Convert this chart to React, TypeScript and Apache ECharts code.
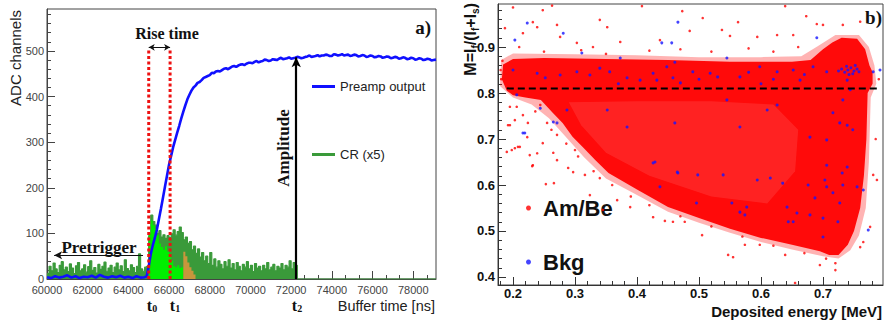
import { useEffect, useRef } from "react";
import * as echarts from "echarts";

// ---------------- Panel a) data ----------------
const binStart = 60000;
const binWidth = 100;
// CR (x5) histogram, 100 ns bins from 60000 ns
const crCounts = [
  12, 28, 18, 35, 22, 14, 30, 38, 20, 26, 16, 33, 24, 12, 29, 36, 18, 22, 31, 15,
  27, 40, 19, 25, 13, 32, 21, 28, 37, 17, 24, 30, 14, 26, 35, 20, 29, 16, 42, 23,
  18, 31, 25, 14, 28, 55, 22, 17, 26, 28,
  95, 140, 126, 118, 100, 106, 92, 97, 89, 95, 91, 99, 108, 96, 104, 114, 102, 86, 92, 78,
  82, 64, 72, 56, 66, 48, 58, 40, 50, 34, 58, 30, 44, 26, 40, 32, 22, 38, 28, 42,
  24, 34, 20, 36, 28, 18, 32, 26, 38, 22, 30, 16, 34, 24, 28, 18, 30, 22, 36, 20,
  26, 32, 18, 28, 24, 34, 20, 30, 26, 40, 22, 36, 30,
];
const crTailEnd = 79120;
// fast component (bright green), 100 ns bins from 65000 ns
const fastStart = 65000;
const fastCounts = [100, 128, 118, 110, 96, 78, 70, 64, 72, 60, 56, 40, 28, 26, 30, 24, 26];
// slow component (orange), 100 ns bins from 66700 ns
const slowStart = 66700;
const slowCounts = [60, 50, 36, 26, 18, 10];

// Preamp output [ns, ADC]
const preampPoints = [
  [60000, 4], [60200, 2], [60400, 6], [60600, 3], [60800, 5], [61000, 8], [61200, 3], [61400, 6],
  [61600, 2], [61800, 5], [62000, 4], [62200, 7], [62400, 3], [62600, 9], [62800, 5], [63000, 3],
  [63200, 6], [63400, 4], [63600, 7], [63800, 3], [64000, 5], [64200, 2], [64400, 6], [64600, 3],
  [64800, 4], [64900, 6], [65000, 28], [65100, 55], [65200, 74], [65300, 90], [65400, 108],
  [65500, 131], [65600, 154], [65700, 178], [65800, 203], [65900, 227], [66000, 251], [66100, 270],
  [66200, 289], [66300, 305], [66400, 321], [66500, 336], [66600, 352], [66700, 367], [66800, 381],
  [66900, 394], [67000, 404], [67100, 413], [67200, 420], [67300, 424], [67400, 430], [67500, 432],
  [67600, 436], [67700, 441], [67800, 443], [67900, 445], [68000, 447], [68100, 452], [68200, 451],
  [68300, 455], [68400, 456], [68500, 455], [68600, 458], [68700, 461], [68800, 462], [68900, 460],
  [69000, 463], [69100, 466], [69200, 467], [69300, 465], [69400, 468], [69500, 470], [69600, 471],
  [69700, 469], [69800, 472], [69900, 474], [70000, 474], [70100, 473], [70200, 476], [70300, 478],
  [70400, 475], [70500, 477], [70600, 478], [70700, 481], [70800, 480], [70900, 478], [71000, 479],
  [71100, 482], [71200, 481], [71300, 480], [71400, 483], [71500, 485], [71600, 482], [71700, 483],
  [71800, 484], [71900, 486], [72000, 483], [72100, 484], [72200, 485], [72300, 487], [72400, 486],
  [72500, 484], [72600, 485], [72700, 487], [72800, 488], [72900, 490], [73000, 487], [73100, 488],
  [73200, 489], [73300, 491], [73400, 488], [73500, 490], [73600, 490], [73700, 492], [73800, 491],
  [73900, 489], [74000, 489], [74100, 493], [74200, 492], [74300, 490], [74400, 491], [74500, 493],
  [74600, 490], [74700, 491], [74800, 492], [74900, 489], [75000, 490], [75100, 492], [75200, 491],
  [75300, 488], [75400, 489], [75500, 491], [75600, 490], [75700, 487], [75800, 488], [75900, 490],
  [76000, 489], [76100, 486], [76200, 487], [76300, 489], [76400, 488], [76500, 485], [76600, 486],
  [76700, 488], [76800, 487], [76900, 484], [77000, 485], [77100, 487], [77200, 486], [77300, 483],
  [77400, 484], [77500, 486], [77600, 485], [77700, 482], [77800, 483], [77900, 485], [78000, 484],
  [78100, 481], [78200, 482], [78300, 484], [78400, 483], [78500, 480], [78600, 481], [78700, 483],
  [78800, 482], [78900, 479], [79000, 480], [79120, 481],
];

const t0 = 65000;
const t1 = 66050;
const t2 = 72250;
const riseLineTop = 503;
const riseArrowLevel = 508;
const amplitudeTop = 486;
const pretriggerLevel = 52;
const pretriggerFrom = 64720;
const pretriggerTo = 60350;

const leftXTicks = [60000, 62000, 64000, 66000, 68000, 70000, 72000, 74000, 76000, 78000];
const leftYTicks = [0, 100, 200, 300, 400, 500];

// ---------------- Panel b) data ----------------
const mThreshold = 0.81;
const thresholdFrom = 0.19;
const thresholdTo = 0.79;
const rightXTicks = [0.2, 0.3, 0.4, 0.5, 0.6, 0.7];
const rightYTicks = [0.4, 0.5, 0.6, 0.7, 0.8, 0.9];

// dense Am/Be region outline [E, M]
const amBeHalo = [
  [0.179, 0.815], [0.181, 0.872], [0.2, 0.886], [0.3, 0.884], [0.4, 0.882], [0.5, 0.878],
  [0.6, 0.878], [0.665, 0.88], [0.692, 0.902], [0.72, 0.926], [0.758, 0.926], [0.774, 0.9],
  [0.783, 0.86], [0.786, 0.82], [0.777, 0.79], [0.774, 0.65], [0.769, 0.55], [0.758, 0.49],
  [0.744, 0.458], [0.725, 0.44], [0.7, 0.445], [0.65, 0.46], [0.6, 0.476], [0.55, 0.496],
  [0.5, 0.518], [0.45, 0.542], [0.4, 0.578], [0.35, 0.614], [0.315, 0.66], [0.285, 0.705],
  [0.258, 0.745], [0.23, 0.775], [0.2, 0.79],
];
const amBeCore = [
  [0.182, 0.83], [0.184, 0.862], [0.2, 0.874], [0.25, 0.876], [0.35, 0.874], [0.45, 0.872],
  [0.55, 0.868], [0.65, 0.868], [0.68, 0.872], [0.7, 0.895], [0.715, 0.91], [0.73, 0.92],
  [0.755, 0.918], [0.768, 0.895], [0.775, 0.86], [0.78, 0.845], [0.78, 0.82], [0.772, 0.8],
  [0.77, 0.7], [0.766, 0.62], [0.76, 0.55], [0.75, 0.5], [0.74, 0.47], [0.725, 0.448],
  [0.71, 0.448], [0.695, 0.456], [0.65, 0.47], [0.6, 0.485], [0.55, 0.505], [0.5, 0.528],
  [0.45, 0.552], [0.4, 0.59], [0.354, 0.626], [0.333, 0.654], [0.312, 0.683], [0.296, 0.705],
  [0.28, 0.735], [0.264, 0.757], [0.245, 0.785], [0.22, 0.79], [0.2, 0.795], [0.19, 0.805],
];
const amBeSparse = [
  [0.29, 0.78], [0.4, 0.782], [0.52, 0.782], [0.62, 0.775], [0.66, 0.72], [0.655, 0.63],
  [0.61, 0.56], [0.52, 0.575], [0.42, 0.62], [0.35, 0.67], [0.31, 0.73],
];
const amBePoints = [
  [0.263, 0.99], [0.248, 0.98], [0.2, 0.986], [0.408, 0.989], [0.232, 0.954], [0.239, 0.943],
  [0.271, 0.948], [0.34, 0.959], [0.352, 0.943], [0.187, 0.941], [0.216, 0.93], [0.276, 0.922],
  [0.303, 0.909], [0.329, 0.9], [0.373, 0.911], [0.437, 0.915], [0.195, 0.77], [0.203, 0.741],
  [0.192, 0.73], [0.208, 0.683], [0.223, 0.704], [0.198, 0.676], [0.248, 0.691], [0.227, 0.665],
  [0.265, 0.67], [0.639, 0.989], [0.673, 0.967], [0.473, 0.978], [0.506, 0.963], [0.563, 0.954],
  [0.485, 0.935], [0.537, 0.937], [0.55, 0.924], [0.594, 0.922], [0.626, 0.926], [0.652, 0.926],
  [0.69, 0.95], [0.7, 0.948], [0.732, 0.948], [0.76, 0.955], [0.231, 0.641], [0.253, 0.602],
  [0.266, 0.604], [0.297, 0.628], [0.324, 0.578], [0.316, 0.622], [0.345, 0.546], [0.368, 0.567],
  [0.389, 0.552], [0.426, 0.53], [0.445, 0.522], [0.458, 0.52], [0.477, 0.52], [0.505, 0.491],
  [0.547, 0.448], [0.555, 0.443], [0.574, 0.47], [0.598, 0.47], [0.639, 0.448], [0.655, 0.387],
  [0.695, 0.426], [0.72, 0.43], [0.72, 0.415], [0.76, 0.465], [0.765, 0.476], [0.776, 0.509],
  [0.781, 0.622], [0.787, 0.611], [0.19, 0.672], [0.203, 0.68], [0.211, 0.683], [0.232, 0.643],
  [0.289, 0.637], [0.271, 0.654], [0.239, 0.669], [0.224, 0.735], [0.195, 0.73], [0.206, 0.77],
  [0.216, 0.752], [0.255, 0.735], [0.244, 0.774], [0.271, 0.709], [0.18, 0.85], [0.183, 0.87],
  [0.181, 0.83], [0.25, 0.89], [0.31, 0.893], [0.42, 0.892], [0.47, 0.895], [0.52, 0.89],
  [0.58, 0.897], [0.62, 0.89], [0.66, 0.9], [0.35, 0.885], [0.21, 0.9], [0.79, 0.83], [0.785, 0.7],
  [0.286, 0.69], [0.305, 0.662], [0.33, 0.63], [0.36, 0.6], [0.39, 0.575], [0.42, 0.556],
  [0.47, 0.532], [0.52, 0.51], [0.57, 0.488], [0.62, 0.468], [0.67, 0.452], [0.705, 0.44],
  [0.262, 0.72], [0.236, 0.76], [0.3, 0.676], [0.34, 0.615],
];
const bkgPoints = [
  [0.223, 0.952], [0.203, 0.915], [0.281, 0.93], [0.311, 0.887], [0.373, 0.876], [0.2, 0.85],
  [0.239, 0.843], [0.252, 0.833], [0.276, 0.839], [0.303, 0.846], [0.324, 0.839], [0.34, 0.854],
  [0.356, 0.846], [0.384, 0.833], [0.405, 0.828], [0.426, 0.843], [0.448, 0.857], [0.458, 0.833],
  [0.206, 0.796], [0.244, 0.767], [0.271, 0.735], [0.219, 0.713], [0.432, 0.828], [0.466, 0.954],
  [0.44, 0.909], [0.456, 0.909], [0.69, 0.92], [0.461, 0.867], [0.49, 0.846], [0.518, 0.843],
  [0.545, 0.876], [0.566, 0.835], [0.598, 0.857], [0.626, 0.846], [0.652, 0.85], [0.663, 0.828],
  [0.684, 0.857], [0.706, 0.846], [0.725, 0.848], [0.73, 0.852], [0.735, 0.845], [0.74, 0.85],
  [0.745, 0.855], [0.75, 0.848], [0.755, 0.852], [0.748, 0.842], [0.738, 0.858], [0.758, 0.846],
  [0.742, 0.84], [0.752, 0.86], [0.739, 0.828], [0.744, 0.807], [0.732, 0.785], [0.739, 0.73],
  [0.727, 0.735], [0.716, 0.757], [0.748, 0.72], [0.706, 0.698], [0.679, 0.704], [0.626, 0.774],
  [0.61, 0.763], [0.545, 0.785], [0.792, 0.85], [0.781, 0.846], [0.566, 0.726], [0.465, 0.628],
  [0.498, 0.622], [0.539, 0.622], [0.553, 0.561], [0.566, 0.541], [0.574, 0.535], [0.577, 0.552],
  [0.594, 0.611], [0.615, 0.615], [0.635, 0.604], [0.642, 0.552], [0.644, 0.52], [0.652, 0.52],
  [0.658, 0.539], [0.676, 0.6], [0.679, 0.535], [0.687, 0.572], [0.7, 0.528], [0.703, 0.611],
  [0.706, 0.596], [0.716, 0.583], [0.724, 0.52], [0.727, 0.561], [0.731, 0.626], [0.732, 0.6],
  [0.739, 0.639], [0.755, 0.596], [0.765, 0.589], [0.773, 0.502], [0.7, 0.487], [0.706, 0.643],
  [0.496, 0.561], [0.429, 0.65], [0.466, 0.626], [0.437, 0.596], [0.265, 0.737], [0.216, 0.713],
  [0.287, 0.763], [0.352, 0.763], [0.384, 0.726], [0.461, 0.735], [0.426, 0.648], [0.5, 0.83],
  [0.53, 0.835], [0.58, 0.845], [0.62, 0.83], [0.67, 0.84], [0.6, 0.82], [0.47, 0.822], [0.37, 0.82],
];

// ---------------- helpers ----------------
function histSteps(start: number, width: number, counts: number[]) {
  const pts: number[][] = counts.map((c, i) => [start + i * width, c]);
  pts.push([start + counts.length * width, 0]);
  return pts;
}
function minorBetween(majors: number[], div: number, lo: number, hi: number) {
  const step = (majors[1] - majors[0]) / div;
  const out: number[] = [];
  for (let v = majors[0] - step * div; v <= hi + 1e-9; v += step) {
    const r = Math.round(v * 1e6) / 1e6;
    if (r < lo - 1e-9) continue;
    const isMajor = majors.some((m) => Math.abs(m - r) < step / 10);
    if (!isMajor) out.push(r);
  }
  return out;
}
function polygonSeries(name: string, pts: number[][], axis: number, fill: string, z: number) {
  return {
    type: "custom",
    name,
    xAxisIndex: axis,
    yAxisIndex: axis,
    data: pts,
    z,
    silent: true,
    clip: true,
    renderItem: (params: any, api: any) => {
      if (params.dataIndex !== 0) return null;
      const points = pts.map((p) => api.coord(p));
      return { type: "polygon", shape: { points }, style: { fill } };
    },
  };
}

const SANS = "Liberation Sans, Arial, sans-serif";
const SERIF = "Liberation Serif, Times New Roman, serif";

export default function App() {
  const ref = useRef<HTMLDivElement>(null);
  useEffect(() => {
    document.body.style.margin = "0";
    if (!ref.current) return;
    const chart = echarts.init(ref.current, null, { renderer: "svg", width: 886, height: 322 });

    const lxMin = 60000, lxMax = 79120, lyMin = 0, lyMax = 592;
    const rxMin = 0.1758, rxMax = 0.7968, ryMin = 0.3826, ryMax = 0.9935;

    const axisBase = (color: string) => ({
      axisLine: { show: true, lineStyle: { color, width: 1 } },
      splitLine: { show: false },
    });

    const crData = histSteps(binStart, binWidth, crCounts);
    crData.push([crTailEnd, 0]);

    const option: any = {
      animation: false,
      backgroundColor: "#fff",
      grid: [
        { left: 47, top: 9, width: 389, height: 270, show: true, borderColor: "#444", borderWidth: 1, backgroundColor: "transparent" },
        { left: 498, top: 4, width: 385, height: 281, show: true, borderColor: "#444", borderWidth: 1, backgroundColor: "transparent" },
      ],
      xAxis: [
        {
          type: "value", gridIndex: 0, min: lxMin, max: lxMax, ...axisBase("#444"),
          axisTick: { inside: true, length: 8, customValues: leftXTicks, lineStyle: { color: "#444" } },
          axisLabel: { customValues: leftXTicks, fontSize: 11, color: "#444", margin: 5, fontFamily: SANS, formatter: (v: number) => String(v) },
        },
        {
          type: "value", gridIndex: 0, min: lxMin, max: lxMax, position: "bottom",
          axisLine: { show: false }, splitLine: { show: false }, axisLabel: { show: false },
          axisTick: { inside: true, length: 4, customValues: minorBetween(leftXTicks, 3, lxMin, lxMax), lineStyle: { color: "#444" } },
        },
        {
          type: "value", gridIndex: 1, min: rxMin, max: rxMax, ...axisBase("#333"),
          axisTick: { inside: true, length: 8, customValues: rightXTicks, lineStyle: { color: "#333" } },
          axisLabel: {
            customValues: rightXTicks, fontSize: 13, fontWeight: "bold", color: "#111", margin: 2, fontFamily: SANS,
            formatter: (v: number) => v.toFixed(1),
          },
        },
        {
          type: "value", gridIndex: 1, min: rxMin, max: rxMax, position: "bottom",
          axisLine: { show: false }, splitLine: { show: false }, axisLabel: { show: false },
          axisTick: { inside: true, length: 4, customValues: minorBetween(rightXTicks, 5, rxMin, rxMax), lineStyle: { color: "#333" } },
        },
      ],
      yAxis: [
        {
          type: "value", gridIndex: 0, min: lyMin, max: lyMax, position: "left", ...axisBase("#444"),
          axisTick: { inside: true, length: 8, customValues: leftYTicks, lineStyle: { color: "#444" } },
          axisLabel: { customValues: leftYTicks, fontSize: 11, color: "#444", margin: 3, fontFamily: SANS },
        },
        {
          type: "value", gridIndex: 0, min: lyMin, max: lyMax, position: "left",
          axisLine: { show: false }, splitLine: { show: false }, axisLabel: { show: false },
          axisTick: { inside: true, length: 4, customValues: minorBetween(leftYTicks, 5, lyMin, lyMax), lineStyle: { color: "#444" } },
        },
        {
          type: "value", gridIndex: 1, min: ryMin, max: ryMax, position: "left", ...axisBase("#333"),
          axisTick: { inside: true, length: 8, customValues: rightYTicks, lineStyle: { color: "#333" } },
          axisLabel: {
            customValues: rightYTicks, fontSize: 13, fontWeight: "bold", color: "#111", margin: 3, fontFamily: SANS,
            formatter: (v: number) => v.toFixed(1),
          },
        },
        {
          type: "value", gridIndex: 1, min: ryMin, max: ryMax, position: "left",
          axisLine: { show: false }, splitLine: { show: false }, axisLabel: { show: false },
          axisTick: { inside: true, length: 4, customValues: minorBetween(rightYTicks, 5, ryMin, ryMax), lineStyle: { color: "#333" } },
        },
      ],
      legend: [
        {
          data: ["Preamp output", "CR (x5)"], orient: "vertical", left: 307, top: 74,
          icon: "rect", itemWidth: 23, itemHeight: 3, itemGap: 53, selectedMode: false,
          textStyle: { fontSize: 13, fontFamily: SANS, color: "#222", lineHeight: 15 },
        },
        {
          data: ["Am/Be", "Bkg"], orient: "vertical", left: 521, top: 191,
          icon: "circle", itemWidth: 5, itemHeight: 5, itemGap: 30, selectedMode: false,
          textStyle: { fontSize: 22, fontWeight: "bold", fontFamily: SANS, color: "#111", lineHeight: 24, padding: [0, 0, 0, 7] },
        },
      ],
      series: [
        {
          type: "line", name: "CR (x5)", xAxisIndex: 0, yAxisIndex: 0, data: crData, step: "end",
          symbol: "none", color: "#3a9a3a", lineStyle: { color: "#3a9a3a", width: 1.2 },
          areaStyle: { color: "#3a9a3a", opacity: 1 }, z: 2,
        },
        {
          type: "line", name: "fast", xAxisIndex: 0, yAxisIndex: 0, data: histSteps(fastStart, binWidth, fastCounts),
          step: "end", symbol: "none", lineStyle: { width: 0 }, areaStyle: { color: "#00ee00", opacity: 1 }, z: 3,
        },
        {
          type: "line", name: "slow", xAxisIndex: 0, yAxisIndex: 0, data: histSteps(slowStart, binWidth, slowCounts),
          step: "end", symbol: "none", lineStyle: { width: 0 }, areaStyle: { color: "#c8963c", opacity: 1 }, z: 3,
        },
        {
          type: "line", name: "Preamp output", xAxisIndex: 0, yAxisIndex: 0, data: preampPoints,
          symbol: "none", color: "#1010ff", lineStyle: { color: "#1010ff", width: 2.6 }, z: 4,
        },
        {
          type: "line", name: "t0 line", xAxisIndex: 0, yAxisIndex: 0, data: [[t0, 0], [t0, riseLineTop]],
          symbol: "none", lineStyle: { color: "#ee1111", width: 3, type: [3, 2.5] }, z: 5,
          markLine: {
            silent: true, animation: false, label: { show: false },
            data: [
              [
                { coord: [t0, riseArrowLevel], symbol: "arrow", symbolSize: [5, 6], lineStyle: { color: "#111", width: 1, type: "solid" } },
                { coord: [t1, riseArrowLevel], symbol: "arrow", symbolSize: [5, 6] },
              ],
              [
                { coord: [pretriggerFrom, pretriggerLevel], symbol: "none", lineStyle: { color: "#111", width: 1.2, type: "solid" } },
                { coord: [pretriggerTo, pretriggerLevel], symbol: "arrow", symbolSize: [6, 8] },
              ],
              [
                { coord: [t2, 0], symbol: "none", lineStyle: { color: "#000", width: 2.2, type: "solid" } },
                { coord: [t2, amplitudeTop], symbol: "arrow", symbolSize: [7, 10] },
              ],
            ],
          },
        },
        {
          type: "line", name: "t1 line", xAxisIndex: 0, yAxisIndex: 0, data: [[t1, 0], [t1, riseLineTop]],
          symbol: "none", lineStyle: { color: "#ee1111", width: 3, type: [3, 2.5] }, z: 5,
        },
        polygonSeries("halo", amBeHalo, 2, "rgba(255,20,20,0.32)", 2),
        polygonSeries("core", amBeCore, 2, "#ff0a0a", 3),
        polygonSeries("sparse", amBeSparse, 2, "rgba(255,255,255,0.1)", 4),
        {
          type: "scatter", name: "Am/Be", xAxisIndex: 2, yAxisIndex: 2, data: amBePoints,
          symbol: "circle", symbolSize: 2.6, color: "#ff0000", itemStyle: { color: "#ff0000" }, z: 5,
        },
        {
          type: "scatter", name: "Bkg", xAxisIndex: 2, yAxisIndex: 2, data: bkgPoints,
          symbol: "circle", symbolSize: 3, color: "#0000ff", itemStyle: { color: "#1515ff" }, z: 6,
        },
        {
          type: "line", name: "threshold", xAxisIndex: 2, yAxisIndex: 2,
          data: [[thresholdFrom, mThreshold], [thresholdTo, mThreshold]],
          symbol: "none", lineStyle: { color: "#000", width: 2, type: [7, 4] }, z: 7,
        },
      ],
      graphic: [
        { type: "text", x: 167, y: 33, style: { text: "Rise time", fontFamily: SERIF, fontWeight: "bold", fontSize: 16, fill: "#111", align: "center", verticalAlign: "middle" } },
        { type: "text", x: 99, y: 247, style: { text: "Pretrigger", fontFamily: SERIF, fontWeight: "bold", fontSize: 17, fill: "#111", align: "center", verticalAlign: "middle" } },
        { type: "text", x: 283, y: 148, rotation: Math.PI / 2, style: { text: "Amplitude", fontFamily: SERIF, fontWeight: "bold", fontSize: 17, fill: "#111", align: "center", verticalAlign: "middle" } },
        { type: "text", x: 431, y: 27, style: { text: "a)", fontFamily: SERIF, fontWeight: "bold", fontSize: 19, fill: "#111", align: "right", verticalAlign: "middle" } },
        { type: "text", x: 882, y: 17, style: { text: "b)", fontFamily: SERIF, fontWeight: "bold", fontSize: 19, fill: "#111", align: "right", verticalAlign: "middle" } },
        ...[[152, "0"], [175, "1"], [297, "2"]].map(([x, s]) => ({
          type: "text", x, y: 305,
          style: {
            text: `{t|t}{s|${s}}`, align: "center", verticalAlign: "middle",
            rich: {
              t: { fontFamily: SERIF, fontWeight: "bold", fontSize: 16, fill: "#111", lineHeight: 16, verticalAlign: "middle" },
              s: { fontFamily: SERIF, fontWeight: "bold", fontSize: 10, fill: "#111", lineHeight: 16, verticalAlign: "bottom" },
            },
          },
        })),
        { type: "text", x: 435, y: 306, style: { text: "Buffer time [ns]", fontFamily: SANS, fontSize: 14.5, fill: "#222", align: "right", verticalAlign: "middle" } },
        { type: "text", x: 15, y: 10, rotation: Math.PI / 2, style: { text: "ADC channels", fontFamily: SANS, fontSize: 15, fill: "#222", align: "right", verticalAlign: "middle" } },
        { type: "text", x: 882, y: 311, style: { text: "Deposited energy [MeV]", fontFamily: SANS, fontWeight: "bold", fontSize: 15, fill: "#111", align: "right", verticalAlign: "middle" } },
        {
          type: "text", x: 470, y: 3, rotation: Math.PI / 2,
          style: {
            text: "{m|M=I}{s|f}{m|/(I}{s|f}{m|+I}{s|s}{m|)}", align: "right", verticalAlign: "middle",
            rich: {
              m: { fontFamily: SANS, fontWeight: "bold", fontSize: 16, fill: "#111", lineHeight: 20, verticalAlign: "middle" },
              s: { fontFamily: SANS, fontWeight: "bold", fontSize: 10, fill: "#111", lineHeight: 20, verticalAlign: "bottom" },
            },
          },
        },
      ],
    };
    chart.setOption(option);
    return () => chart.dispose();
  }, []);
  return <div ref={ref} style={{ width: 886, height: 322 }} />;
}
